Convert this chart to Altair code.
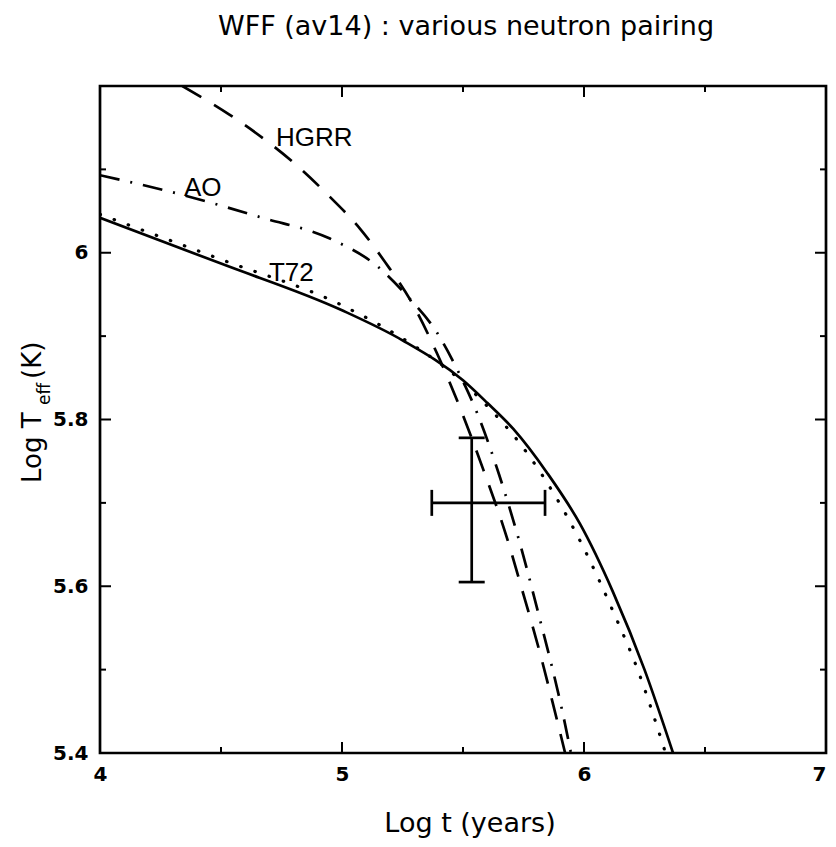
import altair as alt
import pandas as pd

# ---- data ----
solid_x = [4.0, 4.5, 5.0, 5.25, 5.5, 5.6, 5.707, 5.85, 5.983, 6.12, 6.25, 6.368]
solid_y = [6.042, 5.987, 5.931, 5.895, 5.847, 5.820, 5.789, 5.735, 5.675, 5.593, 5.50, 5.40]

t72_x = [4.0, 4.5, 5.0, 5.3, 5.45, 5.61, 5.736, 5.839, 5.90, 5.99, 6.12, 6.219, 6.337]
t72_y = [6.046, 5.992, 5.937, 5.888, 5.857, 5.813, 5.771, 5.728, 5.699, 5.651, 5.570, 5.502, 5.40]

ao_x = [4.0, 4.32, 4.67, 4.95, 5.145, 5.273, 5.393, 5.483, 5.558, 5.649, 5.748, 5.818, 5.868, 5.909, 5.946]
ao_y = [6.093, 6.071, 6.042, 6.017, 5.984, 5.947, 5.904, 5.856, 5.808, 5.734, 5.638, 5.560, 5.503, 5.452, 5.40]

hgrr_x = [4.34, 4.533, 4.68, 4.82, 4.95, 5.074, 5.18, 5.281, 5.39, 5.496, 5.585, 5.674, 5.746, 5.818, 5.87, 5.922]
hgrr_y = [6.2, 6.166, 6.136, 6.103, 6.067, 6.029, 5.988, 5.944, 5.881, 5.808, 5.739, 5.665, 5.594, 5.52, 5.461, 5.40]

# observation with error bars
obs_x = [5.536]
obs_y = [5.70]
obs_xlo = [5.371]
obs_xhi = [5.839]
obs_ylo = [5.605]
obs_yhi = [5.778]

# curve labels
lab_text = ["HGRR", "AO", "T72"]
lab_x = [4.727, 4.347, 4.698]
lab_y = [6.128, 6.068, 5.966]

# ticks
x_major = [4, 5, 6, 7]
x_minor = [4.5, 5.5, 6.5]
y_major = [5.4, 5.6, 5.8, 6.0]
y_minor = [5.5, 5.7, 5.9, 6.1]

title_text = "WFF (av14) : various neutron pairing"
xlabel_text = "Log t (years)"

W, H = 726, 667
MAJ, MIN = 11, 6
LW = 2.7

xscale = alt.Scale(domain=[4, 7], nice=False, zero=False)
yscale = alt.Scale(domain=[5.4, 6.2], nice=False, zero=False)
xaxis = alt.Axis(values=x_major, format="~g", domain=False, ticks=False, tickSize=0,
                 grid=False, labelFont="DejaVu Sans", labelFontWeight="bold",
                 labelFontSize=20, labelColor="black", labelPadding=11,
                 labelFlush=False, title=None,
                 labelAlign={"condition": {"test": "datum.value >= 7", "value": "right"},
                             "value": "center"})
yaxis = alt.Axis(values=y_major, format="~g", domain=False, ticks=False, tickSize=0,
                 grid=False, labelFont="DejaVu Sans", labelFontWeight="bold",
                 labelFontSize=20, labelColor="black", labelPadding=12,
                 labelFlush=False, title=None)


def X(f):
    return alt.X(f, type="quantitative", scale=xscale, axis=xaxis)


def Y(f):
    return alt.Y(f, type="quantitative", scale=yscale, axis=yaxis)


def curve(xs, ys, dash=None, cap="butt", width=LW):
    df = pd.DataFrame({"x": xs, "y": ys})
    kw = dict(color="black", strokeWidth=width, interpolate="monotone", clip=True, strokeCap=cap)
    if dash is not None:
        kw["strokeDash"] = dash
    return alt.Chart(df).mark_line(**kw).encode(x=X("x"), y=Y("y"))


layers = [
    curve(solid_x, solid_y),
    curve(t72_x, t72_y, dash=[0.5, 14.5], cap="round", width=3.2),
    curve(ao_x, ao_y, dash=[20, 11, 2, 11]),
    curve(hgrr_x, hgrr_y, dash=[22, 15]),
]

# error bars
obs = pd.DataFrame({"x": obs_x, "y": obs_y, "xlo": obs_xlo, "xhi": obs_xhi,
                    "ylo": obs_ylo, "yhi": obs_yhi})
layers.append(alt.Chart(obs).mark_rule(color="black", strokeWidth=LW).encode(
    x=X("xlo"), x2="xhi", y=Y("y")))
layers.append(alt.Chart(obs).mark_rule(color="black", strokeWidth=LW).encode(
    x=X("x"), y=Y("ylo"), y2="yhi"))
for cx, cy, ori in [("xlo", "y", "vertical"), ("xhi", "y", "vertical"),
                    ("x", "ylo", "horizontal"), ("x", "yhi", "horizontal")]:
    layers.append(alt.Chart(obs).mark_tick(color="black", orient=ori, size=26,
                                           thickness=LW, opacity=1).encode(
        x=X(cx), y=Y(cy)))

# curve labels
labs = pd.DataFrame({"t": lab_text, "x": lab_x, "y": lab_y})
layers.append(alt.Chart(labs).mark_text(font="Liberation Sans", fontSize=26, align="left",
                                        baseline="alphabetic", color="black").encode(
    x=X("x"), y=Y("y"), text="t:N"))


# inward ticks on all four sides
def xticks(vals, length):
    df = pd.DataFrame({"v": vals})
    bot = alt.Chart(df).mark_rule(color="black", strokeWidth=2).encode(
        x=X("v"), y=alt.value(H), y2=alt.value(H - length))
    top = alt.Chart(df).mark_rule(color="black", strokeWidth=2).encode(
        x=X("v"), y=alt.value(0), y2=alt.value(length))
    return [bot, top]


def yticks(vals, length):
    df = pd.DataFrame({"v": vals})
    left = alt.Chart(df).mark_rule(color="black", strokeWidth=2).encode(
        y=Y("v"), x=alt.value(0), x2=alt.value(length))
    right = alt.Chart(df).mark_rule(color="black", strokeWidth=2).encode(
        y=Y("v"), x=alt.value(W), x2=alt.value(W - length))
    return [left, right]


layers += xticks(x_major, MAJ) + xticks(x_minor, MIN) + yticks(y_major, MAJ) + yticks(y_minor, MIN)

# explicit black frame around the plot area
frame = pd.DataFrame({"f": [0]})
layers.append(alt.Chart(frame).mark_rect(filled=False, stroke="black", strokeWidth=2.7,
                                         fillOpacity=0).encode(
    x=alt.value(0), x2=alt.value(W), y=alt.value(0), y2=alt.value(H)))


# titles as text
def ptext(txt, px, py, size, angle=0, align="center", font="DejaVu Sans"):
    df = pd.DataFrame({"t": [txt]})
    kw = dict(font=font, fontSize=size, align=align, baseline="alphabetic", color="black")
    if angle:
        kw["angle"] = angle
    return alt.Chart(df).mark_text(**kw).encode(x=alt.value(px), y=alt.value(py), text="t:N")


layers.append(ptext(title_text, 366, -51, 27))
layers.append(ptext(xlabel_text, 370, 746, 27))
layers.append(ptext("Log T", -59, 397, 26, angle=270, align="left"))
layers.append(ptext("eff", -50, 319, 17, angle=270, align="left"))
layers.append(ptext("(K)", -59, 293, 26, angle=270, align="left"))

chart = alt.layer(*layers).properties(
    width=W, height=H,
    autosize=alt.AutoSizeParams(type="none"),
    padding={"left": 92, "top": 78, "right": 2, "bottom": 86},
).configure_view(stroke="black", strokeWidth=2.7).configure(background="white")

chart.save("out.html", embed_options={"renderer": "svg", "actions": False})
